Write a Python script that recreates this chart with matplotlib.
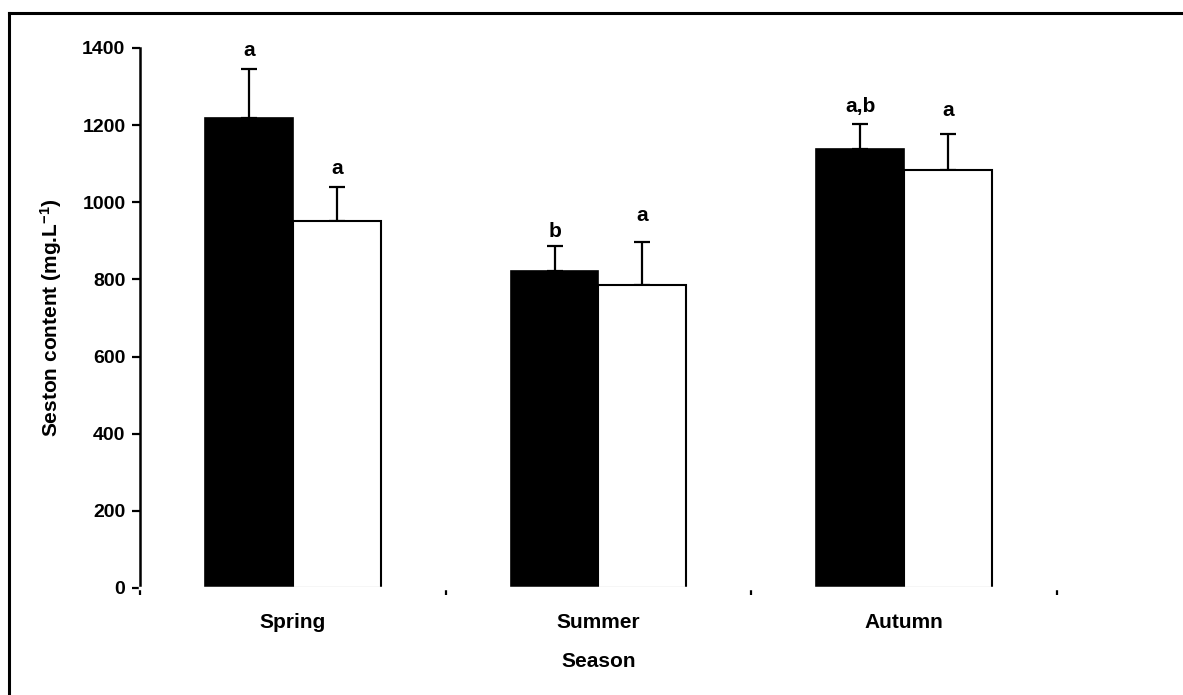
import matplotlib
matplotlib.use("Agg")
import matplotlib.pyplot as plt
from matplotlib.lines import Line2D
import numpy as np

# ---- data ----
seasons = ["Spring", "Summer", "Autumn"]
series_a = [1218, 822, 1138]      # black bars
series_a_err = [128, 65, 66]
series_b = [951, 786, 1084]       # white bars
series_b_err = [89, 111, 93]
letters_a = ["a", "b", "a,b"]
letters_b = ["a", "a", "a"]
y_ticks = [0, 200, 400, 600, 800, 1000, 1200, 1400]

# label lift above error-bar tips (points), layout only
lift_a = [9.4, 6.5, 8.3]
lift_b = [9.4, 15.0, 13.3]

plt.rcParams["font.family"] = ["Liberation Sans", "DejaVu Sans"]
plt.rcParams["font.weight"] = "bold"
plt.rcParams["mathtext.fontset"] = "custom"
plt.rcParams["mathtext.rm"] = "Liberation Sans:bold"
plt.rcParams["mathtext.bf"] = "Liberation Sans:bold"
plt.rcParams["mathtext.it"] = "Liberation Sans:bold"

W, H = 1183, 695
fig = plt.figure(figsize=(W / 100, H / 100), dpi=100)
ax = fig.add_axes([140 / W, 1 - 588 / H, (1057 - 140) / W, (588 - 48) / H])

x = np.arange(len(seasons))
bw = 0.287
ax.bar(x - bw / 2, series_a, width=bw, color="black", edgecolor="black",
       linewidth=1.2, zorder=2)
ax.bar(x + bw / 2, series_b, width=bw, color="white", edgecolor="black",
       linewidth=1.5, zorder=2)
ax.errorbar(x - bw / 2, series_a, yerr=[np.zeros(3), series_a_err], fmt="none",
            ecolor="black", elinewidth=1.6, capsize=6, capthick=1.6, zorder=1)
ax.errorbar(x + bw / 2, series_b, yerr=[np.zeros(3), series_b_err], fmt="none",
            ecolor="black", elinewidth=1.6, capsize=6, capthick=1.6, zorder=1)

for xi, v, e, t, d in zip(x - bw / 2, series_a, series_a_err, letters_a, lift_a):
    ax.annotate(t, (xi, v + e), xytext=(0, d), textcoords="offset points",
                ha="center", va="baseline", fontsize=15, fontweight="bold")
for xi, v, e, t, d in zip(x + bw / 2, series_b, series_b_err, letters_b, lift_b):
    ax.annotate(t, (xi, v + e), xytext=(0, d), textcoords="offset points",
                ha="center", va="baseline", fontsize=15, fontweight="bold")

ax.set_xlim(-0.5, 2.5)
ax.set_ylim(0, 1400)
ax.set_yticks(y_ticks)
ax.set_yticklabels([str(v) for v in y_ticks], fontsize=14, fontweight="bold")

ax.set_xticks(np.arange(-0.5, 3.0, 1.0))
ax.set_xticklabels([])
ax.set_xticks(x, minor=True)
ax.set_xticklabels(seasons, minor=True, fontsize=15, fontweight="bold")
ax.tick_params(axis="x", which="major", direction="out", length=5, width=1.6,
               color="black")
ax.tick_params(axis="x", which="minor", length=0, pad=18)
ax.tick_params(axis="y", direction="out", length=5.5, width=1.6, pad=5)

for s in ["top", "right"]:
    ax.spines[s].set_visible(False)
ax.spines["left"].set_linewidth(1.8)
ax.spines["bottom"].set_color("white")
ax.spines["bottom"].set_linewidth(2.5)
ax.spines["bottom"].set_zorder(3)

ax.set_xlabel("Season", fontsize=15, fontweight="bold", labelpad=14.5)
ax.set_ylabel(r"Seston content (mg.L$^{-1}$)", fontsize=15, fontweight="bold",
              labelpad=13)

# figure frame (left and top edges visible)
fig.add_artist(Line2D([8.5 / W, 8.5 / W], [0, 1 - 13 / H], color="black",
                      linewidth=2.2, transform=fig.transFigure))
fig.add_artist(Line2D([8.5 / W, 1], [1 - 13 / H, 1 - 13 / H], color="black",
                      linewidth=2.2, transform=fig.transFigure))

fig.savefig("out.png", dpi=100)
